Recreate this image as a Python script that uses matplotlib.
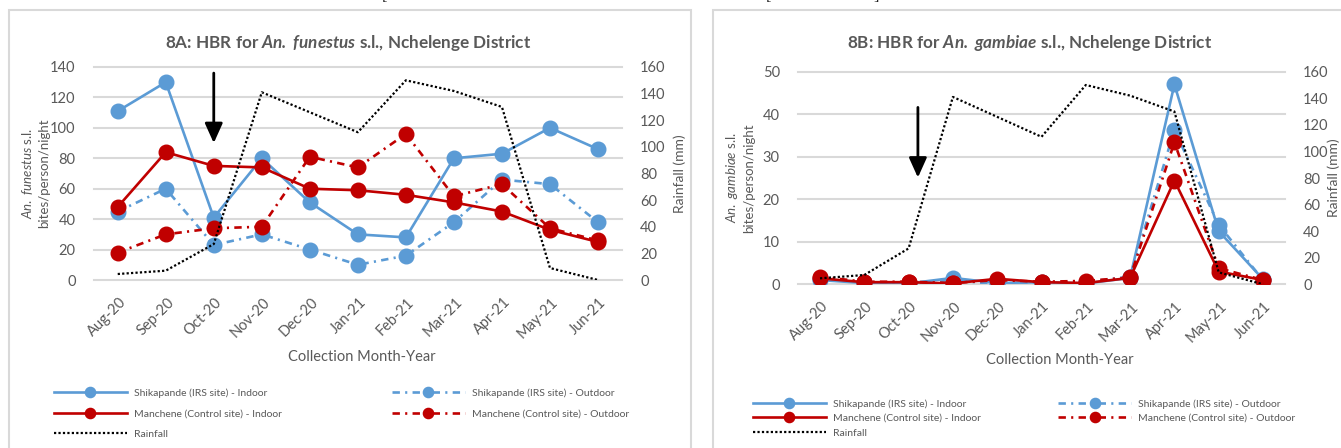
import matplotlib
matplotlib.use("Agg")
import matplotlib.pyplot as plt
from matplotlib.patches import Rectangle
from matplotlib.transforms import ScaledTranslation

# ---------------- data ----------------
months = ["Aug-20", "Sep-20", "Oct-20", "Nov-20", "Dec-20", "Jan-21",
          "Feb-21", "Mar-21", "Apr-21", "May-21", "Jun-21"]

rainfall_mm = [4.5, 7, 27, 141, 126, 111, 150, 142, 130, 9, 0]

funestus_shik_indoor = [111, 130, 41, 80, 51, 30, 28, 80, 83, 100, 86]
funestus_shik_outdoor = [45, 60, 23, 30, 20, 10, 16, 38, 66, 63, 38]
funestus_manch_indoor = [48, 84, 75, 74, 60, 59, 56, 51, 45, 33, 25]
funestus_manch_outdoor = [18, 30, 34, 35, 81, 74, 96, 55, 63, 34, 26]

gambiae_shik_indoor = [1.0, 0.3, 0.2, 1.5, 0.3, 0.5, 0.2, 1.5, 47, 12.5, 1.2]
gambiae_shik_outdoor = [1.2, 0.5, 0.3, 1.0, 0.0, 0.3, 0.5, 1.8, 36.3, 14, 1.0]
gambiae_manch_indoor = [1.4, 0.5, 0.5, 0.2, 1.3, 0.5, 0.3, 1.5, 24.4, 3.0, 1.0]
gambiae_manch_outdoor = [1.8, 0.6, 0.6, 0.3, 1.0, 0.6, 0.8, 1.6, 33.4, 3.8, 1.0]

series_labels = ["Shikapande (IRS site) - Indoor",
                 "Shikapande (IRS site) - Outdoor",
                 "Manchene (Control site) - Indoor",
                 "Manchene (Control site) - Outdoor",
                 "Rainfall"]

# ---------------- style ----------------
BLUE = "#5B9BD5"
RED = "#C00000"
TXT = "#595959"
GRID = "#D9D9D9"
FONT = "Lato"

plt.rcParams["font.family"] = [FONT, "DejaVu Sans"]
plt.rcParams["mathtext.fontset"] = "custom"
plt.rcParams["mathtext.rm"] = FONT
plt.rcParams["mathtext.it"] = FONT + ":italic"
plt.rcParams["mathtext.bf"] = FONT + ":bold"
plt.rcParams["mathtext.bfit"] = FONT + ":italic:bold"

W, H = 1341, 448
fig = plt.figure(figsize=(W / 100, H / 100), dpi=100)
fig.patch.set_facecolor("white")


def fx(px):
    return px / W


def fy(py):
    return 1 - py / H


# chart frames
for x0, x1 in [(9, 691), (713, 1360)]:
    fig.patches.append(Rectangle((fx(x0), fy(470)), fx(x1 - x0), (470 - 10) / H,
                                 transform=fig.transFigure, fill=False,
                                 edgecolor=GRID, lw=1.5, zorder=0))

# fragments of surrounding page text
for xp, s in [(382, "["), (766, "["), (873, "]")]:
    fig.text(fx(xp), fy(-12), s, fontsize=12, family="Liberation Serif",
             color="#222222", va="top", ha="left")

solid = "-"
dashdot = (0, (2.8, 2.0, 0.8, 2.0))
dotted = (0, (1.0, 1.0))


def panel(rect, ymax, ystep, data, title, ylab, arrow, xlab_center,
          ylab_x, rlab_x, legend_anchor, legend_kw):
    ax = fig.add_axes(rect)
    ax.set_xlim(-0.5, len(months) - 0.5)
    ax.set_ylim(0, ymax)
    for s in ax.spines.values():
        s.set_visible(False)
    yt = list(range(0, ymax + 1, ystep))
    ax.set_yticks(yt)
    for v in yt:
        ax.axhline(v, color=GRID, lw=1.5, zorder=0, clip_on=False)
    ax.tick_params(axis="both", length=0, colors=TXT, labelsize=10.5)
    ax.tick_params(axis="y", pad=13)
    x = list(range(len(months)))
    ax.set_xticks(x)
    ax.set_xticklabels(months, rotation=45, ha="right", va="center",
                       rotation_mode="anchor")
    ax.tick_params(axis="x", pad=0)
    off = ScaledTranslation(0.06, -0.20, fig.dpi_scale_trans)
    for lab in ax.get_xticklabels():
        lab.set_transform(lab.get_transform() + off)

    shik_in, shik_out, man_in, man_out = data
    ms = 10.5
    lw = 1.9
    h_si, = ax.plot(x, shik_in, color=BLUE, ls=solid, lw=lw, marker="o",
                    ms=ms, mec=BLUE, zorder=3)
    h_so, = ax.plot(x, shik_out, color=BLUE, ls=dashdot, lw=lw, marker="o",
                    ms=ms, mec=BLUE, zorder=3)
    h_mi, = ax.plot(x, man_in, color=RED, ls=solid, lw=lw, marker="o",
                    ms=ms, mec=RED, zorder=4)
    h_mo, = ax.plot(x, man_out, color=RED, ls=dashdot, lw=lw, marker="o",
                    ms=ms, mec=RED, zorder=4)

    # IRS timing arrow
    ax.annotate("", xy=(arrow[0], arrow[2]), xytext=(arrow[0], arrow[1]),
                arrowprops=dict(arrowstyle="-|>,head_length=0.8,head_width=0.36",
                                color="black", lw=2.0, mutation_scale=15,
                                shrinkA=0, shrinkB=0), zorder=6)

    ax2 = ax.twinx()
    ax2.set_ylim(0, 160)
    ax2.set_yticks(range(0, 161, 20))
    for s in ax2.spines.values():
        s.set_visible(False)
    ax2.tick_params(axis="y", length=0, colors=TXT, labelsize=10.5, pad=13)
    h_rf, = ax2.plot(x, rainfall_mm, color="black", ls=dotted, lw=1.6,
                     zorder=5)

    # titles and axis labels
    pos = ax.get_position()
    fig.text(xlab_center[0], fy(43), title, ha="center", va="center",
             fontsize=12.3, fontweight="bold", color=TXT)
    fig.text(xlab_center[1], fy(xlab_center[2]), "Collection Month-Year",
             ha="center", va="center", fontsize=10.5, color=TXT)
    ymid = (pos.y0 + pos.y1) / 2
    fig.text(fx(ylab_x), ymid, ylab, rotation=90, ha="center", va="center",
             multialignment="center", linespacing=1.3,
             fontsize=9.5, color=TXT)
    fig.text(fx(rlab_x), ymid, "Rainfall (mm)", rotation=90, ha="center",
             va="center", fontsize=10, color=TXT)

    handles = [h_si, h_mi, h_rf, h_so, h_mo]
    labels = [series_labels[0], series_labels[2], series_labels[4],
              series_labels[1], series_labels[3]]
    fig.legend(handles, labels, ncol=2, loc="upper left",
               bbox_to_anchor=legend_anchor, frameon=False,
               fontsize=7.5, borderpad=0, borderaxespad=0,
               handletextpad=0.7, labelcolor=TXT, markerscale=0.7,
               **legend_kw)
    return ax


panel([fx(93.7), fy(280), fx(528.3), 213 / H], 140, 20,
      [funestus_shik_indoor, funestus_shik_outdoor,
       funestus_manch_indoor, funestus_manch_outdoor],
      r"8A: HBR for $\mathbfit{An.}$ $\mathbfit{funestus}$ s.l., Nchelenge District",
      "$\\mathit{An.}$ $\\mathit{funestus}$ s.l.\nbites/person/night",
      (2, 136, 90), (fx(348), fx(362), 357),
      35, 680, (fx(54), fy(388)),
      dict(handlelength=7.0, columnspacing=10.5, labelspacing=1.1))

panel([fx(797.85), fy(284.3), fx(487.3), 212.6 / H], 50, 10,
      [gambiae_shik_indoor, gambiae_shik_outdoor,
       gambiae_manch_indoor, gambiae_manch_outdoor],
      r"8B: HBR for $\mathbfit{An.}$ $\mathbfit{gambiae}$ s.l., Nchelenge District",
      "$\\mathit{An.}$ $\\mathit{gambiae}$ s.l.\nbites/person/night",
      (2.21, 41.6, 25.1), (fx(1030), fx(1060), 360),
      740, 1334, (fx(753), fy(399)),
      dict(handlelength=7.0, columnspacing=7.4, labelspacing=0.5))

fig.savefig("out.png", dpi=100, facecolor="white")
